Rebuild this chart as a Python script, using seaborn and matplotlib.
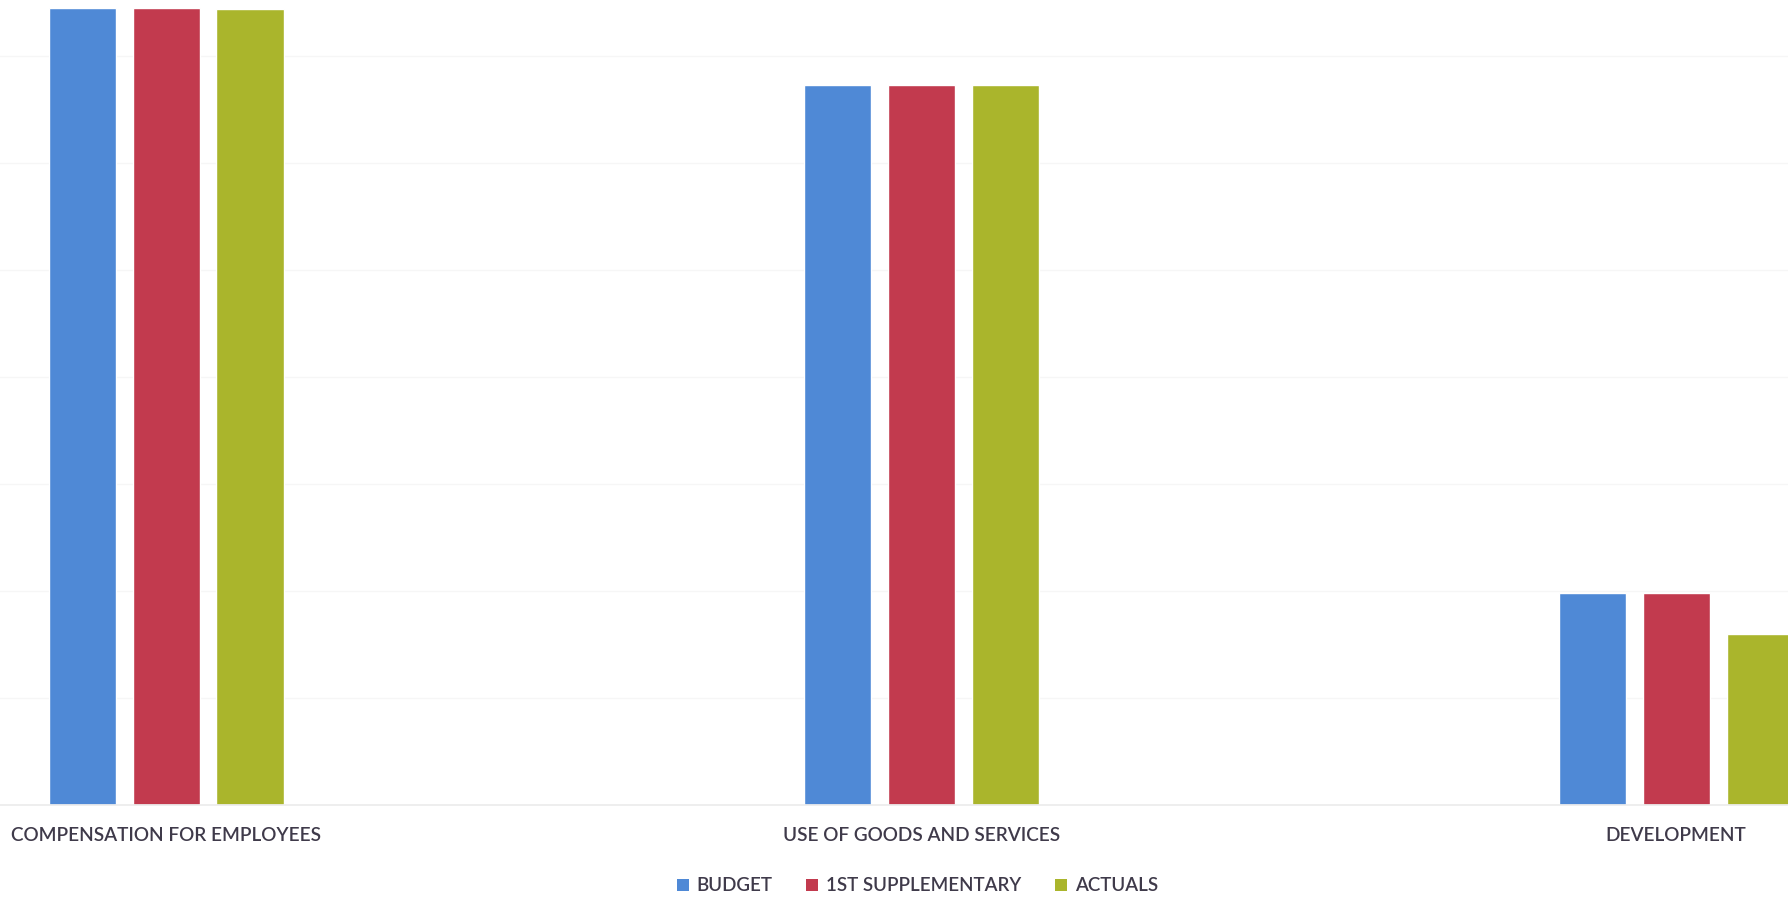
import matplotlib
matplotlib.use("Agg")
import matplotlib.pyplot as plt
import seaborn as sns
import pandas as pd
from matplotlib.patches import Patch

categories = ["COMPENSATION FOR EMPLOYEES", "USE OF GOODS AND SERVICES", "DEVELOPMENT"]
series = ["BUDGET", "1ST SUPPLEMENTARY", "ACTUALS"]
budget = [745, 673, 198]
supplementary = [745, 673, 198]
actuals = [744, 673, 160]
colors = ["#4f89d6", "#c23a4e", "#aab52c"]

rows = []
for s, vals in zip(series, [budget, supplementary, actuals]):
    for c, v in zip(categories, vals):
        rows.append({"category": c, "series": s, "value": v})
df = pd.DataFrame(rows)

sns.set_theme(style="white")
plt.rcParams["font.family"] = ["Lato", "DejaVu Sans"]

fig = plt.figure(figsize=(17.88, 9.0), dpi=100)
ax = fig.add_axes([0.0, 0.1056, 1.0, 0.8944])

sns.barplot(data=df, x="category", y="value", hue="series", order=categories,
            hue_order=series, palette=colors, width=0.3336, gap=0.2,
            saturation=1, ax=ax, legend=False)

ax.set_xlim(-0.22, 2.148)
ax.set_ylim(0, 752.3)
ax.set_yticks(range(100, 800, 100))
ax.set_yticklabels([])
ax.yaxis.grid(True, color="#f6f6f6", linewidth=1)
ax.set_axisbelow(True)
for sp in ["top", "right", "left"]:
    ax.spines[sp].set_visible(False)
ax.spines["bottom"].set_color("#ececec")
ax.set_xlabel("")
ax.set_ylabel("")
ax.tick_params(axis="x", length=0, pad=16, labelsize=13.7, labelcolor="#3f3a4a")
for lab in ax.get_xticklabels():
    lab.set_fontweight("semibold")
ax.tick_params(axis="y", length=0)

handles = [Patch(facecolor=c, edgecolor="none") for c in colors]
leg = fig.legend(handles, series, loc="center", bbox_to_anchor=(0.513, 0.0156), ncol=3,
                 frameon=False, fontsize=13.5, handlelength=0.65, handleheight=0.65,
                 handletextpad=0.4, columnspacing=1.8, labelcolor="#3f3a4a")
for t in leg.get_texts():
    t.set_fontweight("semibold")

fig.savefig("out.png", dpi=100, facecolor="white")
